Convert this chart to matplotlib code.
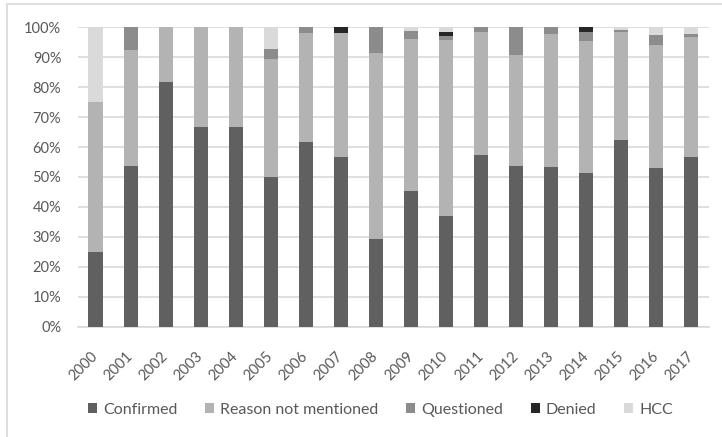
import matplotlib
matplotlib.use("Agg")
from matplotlib import pyplot as plt
from matplotlib.patches import Rectangle
from matplotlib.transforms import ScaledTranslation
import numpy as np

years = [str(y) for y in range(2000, 2018)]

# share of each reason per year, in percent
confirmed = [25, 53.8, 81.8, 66.7, 66.7, 50, 61.7, 56.8, 29.3, 45.3,
             37.1, 57.3, 53.7, 53.3, 51.4, 62.2, 53, 56.7]
not_mentioned = [50, 38.5, 18.2, 33.3, 33.3, 39.2, 36.3, 41.2, 62, 50.8,
                 58.6, 40.9, 37.1, 44.4, 43.9, 36.1, 41.1, 40]
questioned = [0, 7.7, 0, 0, 0, 3.5, 2, 0, 8.7, 2.6,
              1.3, 1.8, 9.2, 2.3, 3.0, 0.7, 3.3, 1.0]
denied = [0, 0, 0, 0, 0, 0, 0, 2, 0, 0,
          1.4, 0, 0, 0, 1.7, 0, 0, 0]
hcc = [25, 0, 0, 0, 0, 7.3, 0, 0, 0, 1.3,
       1.6, 0, 0, 0, 0, 1.0, 2.6, 2.3]

series = [
    ("Confirmed", confirmed, "#606060"),
    ("Reason not mentioned", not_mentioned, "#b3b3b3"),
    ("Questioned", questioned, "#8c8c8c"),
    ("Denied", denied, "#262626"),
    ("HCC", hcc, "#dadada"),
]

TEXT = "#595959"
GRID = "#d9d9d9"
plt.rcParams["font.family"] = ["Lato", "DejaVu Sans"]

fig = plt.figure(figsize=(7.22, 4.37), dpi=100)
ax = fig.add_axes([0.108, 0.252, 0.874, 0.686])

x = np.arange(len(years))
bottom = np.zeros(len(years))
for name, vals, col in series:
    vals = np.array(vals, dtype=float)
    ax.bar(x, vals, 0.4, bottom=bottom, color=col, label=name, zorder=3)
    bottom += vals

ax.set_xlim(-0.5, len(years) - 0.5)
ax.set_ylim(0, 100)
ax.set_yticks(range(0, 101, 10))
ax.set_yticklabels([f"{v}%" for v in range(0, 101, 10)])
ax.set_xticks(x)
ax.set_xticklabels(years, rotation=45, ha="right", va="top",
                   rotation_mode="anchor")
ax.tick_params(axis="both", length=0, colors=TEXT, labelsize=10.5)
ax.tick_params(axis="y", pad=12)
ax.tick_params(axis="x", pad=16)
# nudge the slanted year labels a little to the left
shift = ScaledTranslation(-5 / 100, 0, fig.dpi_scale_trans)
for lab in ax.get_xticklabels():
    lab.set_transform(lab.get_transform() + shift)
ax.yaxis.grid(True, color=GRID, lw=1.2, zorder=0)
for s in ["top", "right", "left"]:
    ax.spines[s].set_visible(False)
ax.spines["bottom"].set_color(GRID)
ax.spines["bottom"].set_linewidth(1.2)

leg = fig.legend(loc="center", bbox_to_anchor=(0.527, 0.062), ncol=5,
                 frameon=False, fontsize=11.5, handlelength=0.56,
                 handleheight=0.56, handletextpad=0.37, columnspacing=1.75)
for t in leg.get_texts():
    t.set_color(TEXT)

# chart area border
fig.patches.append(Rectangle((7 / 722, -0.1), 1.2, 1.1 - 4.5 / 437,
                             transform=fig.transFigure, fill=False,
                             edgecolor=GRID, lw=1.2))

fig.savefig("out.png", dpi=100)
